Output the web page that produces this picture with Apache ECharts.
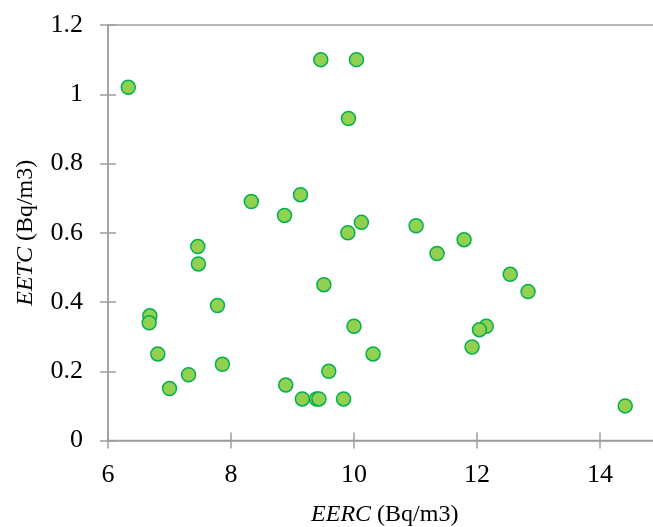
<!DOCTYPE html>
<html>
<head>
<meta charset="utf-8">
<script src="https://cdn.jsdelivr.net/npm/echarts@6/dist/echarts.min.js"></script>
<style>
html,body{margin:0;padding:0;background:#fff;}
#chart{width:653px;height:527px;}
</style>
</head>
<body>
<div id="chart"></div>
<script>
// EERC (Bq/m3) values
const eerc = [6.33, 9.46, 10.04, 9.91, 8.33, 9.13, 8.87, 10.12, 9.90,
  11.01, 11.79, 11.35, 12.54, 12.83, 12.15, 12.04, 11.92, 14.41,
  7.46, 7.47, 7.78, 6.68, 6.67, 6.81, 7.86, 7.31, 7.00, 8.89,
  9.51, 10.00, 10.31, 9.59, 9.16, 9.39, 9.43, 9.83];
// EETC (Bq/m3) values
const eetc = [1.02, 1.10, 1.10, 0.93, 0.69, 0.71, 0.65, 0.63, 0.60,
  0.62, 0.58, 0.54, 0.48, 0.43, 0.33, 0.32, 0.27, 0.10,
  0.56, 0.51, 0.39, 0.36, 0.34, 0.25, 0.22, 0.19, 0.15, 0.16,
  0.45, 0.33, 0.25, 0.20, 0.12, 0.12, 0.12, 0.12];
const xTitle = ['EERC', ' (Bq/m3)'];
const yTitle = ['EETC', ' (Bq/m3)'];

const points = eerc.map((x, i) => [x, eetc[i]]);
const FONT = '"Liberation Serif", "Times New Roman", serif';
const AX = '#9e9e9e';
const richName = {
  i: { fontFamily: FONT, fontSize: 24, fontStyle: 'italic', color: '#000' },
  n: { fontFamily: FONT, fontSize: 24, color: '#000' }
};

const chart = echarts.init(document.getElementById('chart'), null, { renderer: 'canvas' });
chart.setOption({
  animation: false,
  backgroundColor: '#fff',
  textStyle: { fontFamily: FONT, fontSize: 24, color: '#000' },
  grid: {
    left: 108, top: 25, width: 553.5, height: 415.5,
    containLabel: false, outerBoundsMode: 'none',
    show: true, borderColor: AX, borderWidth: 1.5, backgroundColor: 'transparent'
  },
  xAxis: [{
    type: 'value', min: 6, max: 15, interval: 2, position: 'bottom',
    name: '{i|' + xTitle[0] + '}{n|' + xTitle[1] + '}',
    nameLocation: 'middle', nameGap: 62,
    nameTextStyle: { fontFamily: FONT, fontSize: 24, rich: richName },
    axisLine: { show: true, onZero: false, lineStyle: { color: AX, width: 1.5 } },
    axisTick: { show: true, inside: false, length: 8, lineStyle: { color: AX, width: 1.5 } },
    axisLabel: { fontFamily: FONT, fontSize: 26, color: '#000', margin: 22, showMaxLabel: false },
    splitLine: { show: false }
  }, {
    type: 'value', min: 6, max: 15, interval: 2, position: 'bottom',
    axisLine: { show: false },
    axisTick: { show: true, inside: true, length: 8, lineStyle: { color: AX, width: 1.5 } },
    axisLabel: { show: false },
    splitLine: { show: false }
  }],
  yAxis: [{
    type: 'value', min: 0, max: 1.2, interval: 0.2, position: 'left',
    name: '{i|' + yTitle[0] + '}{n|' + yTitle[1] + '}',
    nameLocation: 'middle', nameGap: 70,
    nameTextStyle: { fontFamily: FONT, fontSize: 24, rich: richName },
    axisLine: { show: true, onZero: false, lineStyle: { color: AX, width: 1.5 } },
    axisTick: { show: true, inside: false, length: 8, lineStyle: { color: AX, width: 1.5 } },
    axisLabel: { fontFamily: FONT, fontSize: 26, color: '#000', margin: 25 },
    splitLine: { show: false }
  }, {
    type: 'value', min: 0, max: 1.2, interval: 0.2, position: 'left',
    axisLine: { show: false },
    axisTick: { show: true, inside: true, length: 8, lineStyle: { color: AX, width: 1.5 } },
    axisLabel: { show: false },
    splitLine: { show: false }
  }],
  series: [{
    type: 'scatter',
    xAxisIndex: 0, yAxisIndex: 0,
    data: points,
    symbol: 'circle',
    symbolSize: 14,
    itemStyle: { color: '#92D050', borderColor: '#00B050', borderWidth: 1.5, opacity: 1 }
  }]
});
</script>
</body>
</html>
